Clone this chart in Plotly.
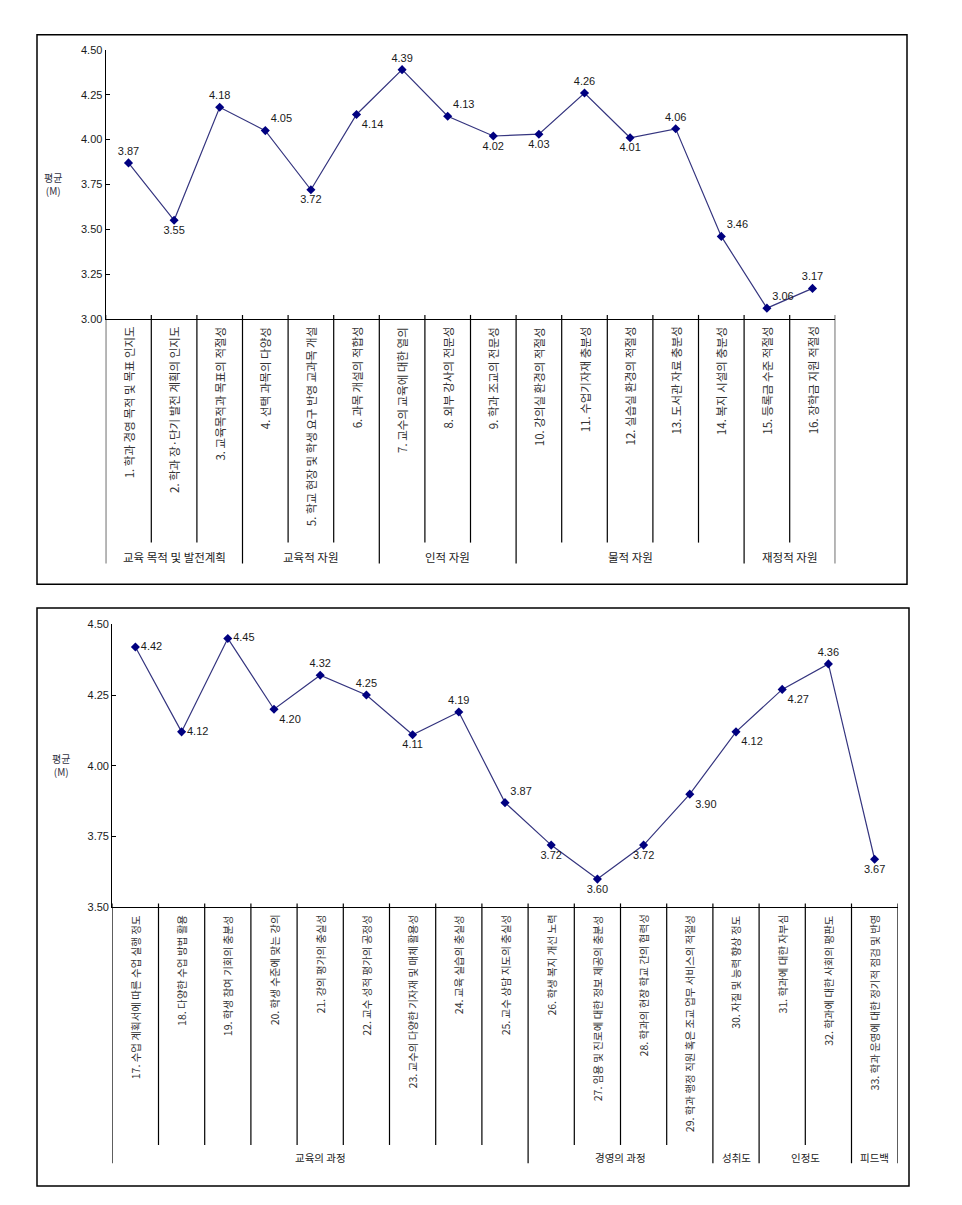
import plotly.graph_objects as go

# page has an 8px body margin; size the figure to fit inside the window
OFF = 8
W, H = 962 - 2 * OFF, 1205 - 2 * OFF

# ---------------- data ----------------
top_labels = [
    "1. 학과 경영 목적 및 목표 인지도",
    "2. 학과 장·단기 발전 계획의 인지도",
    "3. 교육목적과 목표의 적절성",
    "4. 선택 과목의 다양성",
    "5. 학교 현장 및 학생 요구 반영 교과목 개설",
    "6. 과목 개설의 적합성",
    "7. 교수의 교육에 대한 열의",
    "8. 외부 강사의 전문성",
    "9. 학과 조교의 전문성",
    "10. 강의실 환경의 적절성",
    "11. 수업기자재 충분성",
    "12. 실습실 환경의 적절성",
    "13. 도서관 자료 충분성",
    "14. 복지 시설의 충분성",
    "15. 등록금 수준 적절성",
    "16. 장학금 지원 적절성",
]
top_values = [3.87, 3.55, 4.18, 4.05, 3.72, 4.14, 4.39, 4.13, 4.02, 4.03, 4.26, 4.01, 4.06, 3.46, 3.06, 3.17]
top_groups = ["교육 목적 및 발전계획", "교육적 자원", "인적 자원", "물적 자원", "재정적 자원"]
top_group_sizes = [3, 3, 3, 5, 2]
top_textpos = ["top center", "bottom center", "top center", "top right", "bottom center",
               "bottom right", "top center", "top right", "bottom center", "bottom center",
               "top center", "bottom center", "top center", "top right", "top right", "top center"]

bot_labels = [
    "17. 수업 계획서에 따른 수업 실행 정도",
    "18. 다양한 수업 방법 활용",
    "19. 학생 참여 기회의 충분성",
    "20. 학생 수준에 맞는 강의",
    "21. 강의 평가의 충실성",
    "22. 교수 성적 평가의 공정성",
    "23. 교수의 다양한 기자재 및 매체 활용성",
    "24. 교육 실습의 충실성",
    "25. 교수 상담 지도의 충실성",
    "26. 학생 복지 개선 노력",
    "27. 임용 및 진로에 대한 정보 제공의 충분성",
    "28. 학과의 현장 학교 간의 협력성",
    "29. 학과 행정 직원 혹은 조교 업무 서비스의 적절성",
    "30. 자질 및 능력 향상 정도",
    "31. 학과에 대한 자부심",
    "32. 학과에 대한 사회의 평판도",
    "33. 학과 운영에 대한 정기적 점검 및 반영",
]
bot_values = [4.42, 4.12, 4.45, 4.20, 4.32, 4.25, 4.11, 4.19, 3.87, 3.72, 3.60, 3.72, 3.90, 4.12, 4.27, 4.36, 3.67]
bot_groups = ["교육의 과정", "경영의 과정", "성취도", "인정도", "피드백"]
bot_group_sizes = [9, 4, 1, 2, 1]
bot_textpos = ["middle right", "middle right", "middle right", "bottom right", "top center",
               "top center", "bottom center", "top center", "top right", "bottom center",
               "bottom center", "bottom center", "bottom right", "bottom right", "bottom right",
               "top center", "bottom center"]

FONT = "Liberation Sans, Arial, Noto Sans CJK KR, sans-serif"
KFONT = "Noto Sans CJK KR, Liberation Sans, sans-serif"


def px_x(p):
    return (p - OFF) / W


def px_y(p):
    return 1 - (p - OFF) / H


fig = go.Figure()
shapes = []
annotations = []

panels = [
    dict(labels=top_labels, values=top_values, groups=top_groups, sizes=top_group_sizes,
         textpos=top_textpos, xa="x", ya="y", xpx=(105.7, 835.3), ypx=(44.3, 316.0),
         yrange=[3.0, 4.5], inner_bot=542, group_bot=563, group_lab=556.5, lab_top=322,
         box=(37, 29, 907, 584), ytitle=(53, 180), lab_size=11.5, grp_size=11.5),
    dict(labels=bot_labels, values=bot_values, groups=bot_groups, sizes=bot_group_sizes,
         textpos=bot_textpos, xa="x2", ya="y2", xpx=(112.3, 897.7), ypx=(624.5, 910.5),
         yrange=[3.5, 4.5], inner_bot=1150.5, group_bot=1169, group_lab=1163, lab_top=916,
         box=(37, 608, 909, 1192), ytitle=(61, 767), lab_size=10.5, grp_size=10.5),
]

layout_axes = {}
for k, p in enumerate(panels):
    n = len(p["labels"])
    fig.add_trace(go.Scatter(
        x=p["labels"], y=p["values"], mode="lines+markers+text",
        text=[f"{v:.2f}" for v in p["values"]], textposition=p["textpos"],
        textfont=dict(family=FONT, size=11, color="#1a1a1a"),
        line=dict(color="#35357f", width=1.2),
        marker=dict(symbol="diamond", size=7, color="#000080"),
        xaxis=p["xa"], yaxis=p["ya"], cliponaxis=False, showlegend=False,
    ))
    xname = "xaxis" if k == 0 else "xaxis2"
    yname = "yaxis" if k == 0 else "yaxis2"
    layout_axes[xname] = dict(
        domain=[px_x(p["xpx"][0]), px_x(p["xpx"][1])], anchor=p["ya"],
        type="category", categoryorder="array", categoryarray=p["labels"],
        range=[-0.5, n - 0.5], showticklabels=False, ticks="",
        showline=True, linecolor="black", linewidth=1.2, showgrid=False, zeroline=False,
    )
    layout_axes[yname] = dict(
        domain=[px_y(p["ypx"][1]), px_y(p["ypx"][0])], anchor=p["xa"],
        range=p["yrange"], dtick=0.25, tickformat=".2f", ticks="inside", ticklen=4,
        tickcolor="black", showline=True, linecolor="black", linewidth=1.2,
        showgrid=False, zeroline=False,
        tickfont=dict(family=FONT, size=11, color="#1a1a1a"),
    )

    # outer box
    x0, y0, x1, y1 = p["box"]
    shapes.append(dict(type="rect", xref="paper", yref="paper",
                       x0=px_x(x0), x1=px_x(x1), y0=px_y(y1), y1=px_y(y0),
                       line=dict(color="black", width=1.5)))

    # category separators
    bounds = [0]
    for s in p["sizes"]:
        bounds.append(bounds[-1] + s)
    axis_y = p["ypx"][1]
    for i in range(n + 1):
        bottom = p["group_bot"] if i in bounds else p["inner_bot"]
        shapes.append(dict(type="line", xref=p["xa"], yref="paper",
                           x0=i - 0.5, x1=i - 0.5, y0=px_y(bottom), y1=px_y(axis_y - 4),
                           line=dict(color="black", width=1.2)))

    # rotated category labels
    for lab in p["labels"]:
        annotations.append(dict(
            x=lab, xref=p["xa"], y=px_y(p["lab_top"]), yref="paper",
            text=lab, textangle=-90, showarrow=False, xanchor="center", yanchor="top",
            font=dict(family=KFONT, size=p["lab_size"], color="#333333"),
        ))

    # group labels
    for gi, g in enumerate(p["groups"]):
        c = (bounds[gi] + bounds[gi + 1] - 1) / 2
        annotations.append(dict(
            x=c, xref=p["xa"], y=px_y(p["group_lab"]), yref="paper",
            text=g, showarrow=False, xanchor="center", yanchor="middle",
            font=dict(family=KFONT, size=p["grp_size"], color="#222222"),
        ))

    # y axis title
    annotations.append(dict(
        x=px_x(p["ytitle"][0]), y=px_y(p["ytitle"][1]), xref="paper", yref="paper",
        text="평균<br>(M)", showarrow=False, xanchor="center", yanchor="middle",
        font=dict(family=KFONT, size=10, color="#333344"),
    ))

fig.update_layout(
    width=W, height=H, margin=dict(l=0, r=0, t=0, b=0),
    paper_bgcolor="white", plot_bgcolor="white",
    shapes=shapes, annotations=annotations, **layout_axes,
)

fig.write_html("out.html")
